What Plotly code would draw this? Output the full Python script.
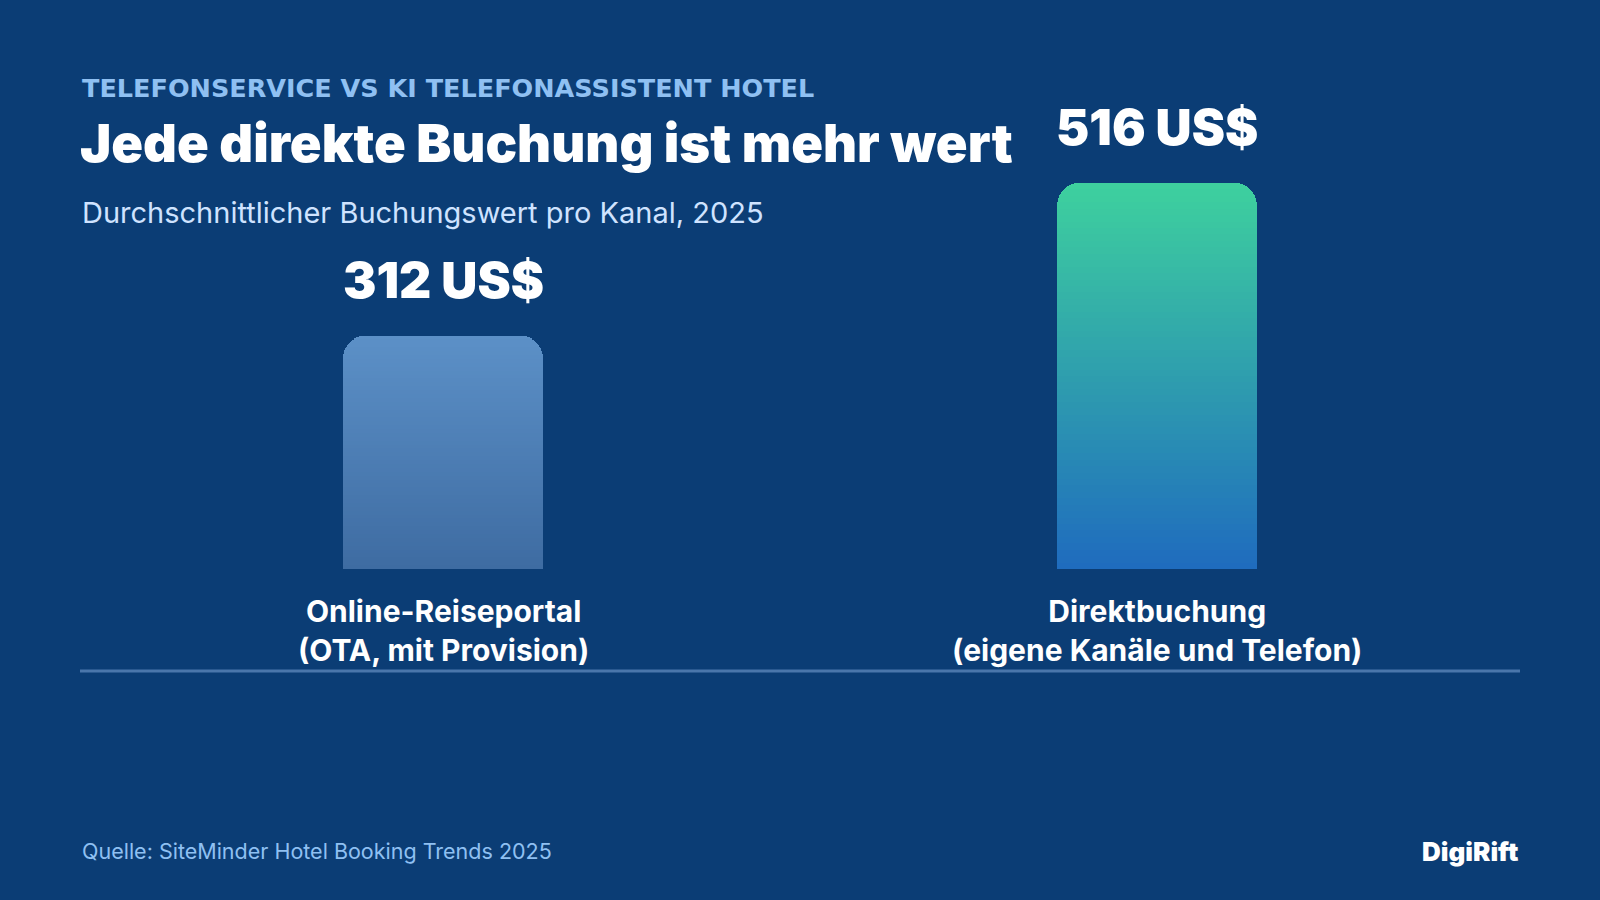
import plotly.graph_objects as go

# ---- data ----
categories = ["Online-Reiseportal<br>(OTA, mit Provision)", "Direktbuchung<br>(eigene Kanäle und Telefon)"]
values = [312, 516]
value_labels = ["312 US$", "516 US$"]

kicker = "TELEFONSERVICE VS KI TELEFONASSISTENT HOTEL"
title = "Jede direkte Buchung ist mehr wert"
subtitle = "Durchschnittlicher Buchungswert pro Kanal, 2025"
source = "Quelle: SiteMinder Hotel Booking Trends 2025"
brand = "DigiRift"

# ---- style ----
BG = "#0b3d75"
FONT = "Inter"
top_colors = [(92, 144, 199), (62, 208, 158)]
bot_colors = [(62, 108, 162), (31, 108, 190)]
N = 60

W, H = 1600, 900
ML, MR, MT, MB = 80, 80, 100, 331
PW, PH = W - ML - MR, H - MT - MB


def xp(px):
    return (px - ML) / PW


def yp(py):
    return (H - MB - py) / PH


def lerp(a, b, t):
    return "rgb(%d,%d,%d)" % tuple(round(a[k] + (b[k] - a[k]) * t) for k in range(3))


fig = go.Figure()
for i in range(N):
    t = i / (N - 1)  # 0 bottom -> 1 top
    cols = [lerp(bot_colors[j], top_colors[j], t) for j in range(len(values))]
    fig.add_trace(go.Bar(
        x=categories, y=[v / N for v in values], width=0.28,
        marker=dict(color=cols, line=dict(width=0)),
        hoverinfo="skip", showlegend=False,
    ))

annotations = []
for c, v, lab in zip(categories, values, value_labels):
    annotations.append(dict(x=c, y=v, xref="x", yref="y", text=lab, showarrow=False,
                            yanchor="middle", yshift=56,
                            font=dict(family=FONT, size=50, color="white", weight=900)))
    annotations.append(dict(x=c, y=0, xref="x", yref="y", text=c, showarrow=False,
                            yanchor="top", yshift=-22,
                            font=dict(family=FONT, size=30, color="white", weight=700)))

annotations += [
    dict(x=xp(80), y=yp(88), xref="paper", yref="paper", text=kicker, showarrow=False,
         xanchor="left", yanchor="middle",
         font=dict(family="DejaVu Sans", size=25.5, color="#8fc0f2", weight=700)),
    dict(x=xp(78), y=yp(143), xref="paper", yref="paper", text=title, showarrow=False,
         xanchor="left", yanchor="middle",
         font=dict(family=FONT, size=52.5, color="white", weight=900)),
    dict(x=xp(80), y=yp(212), xref="paper", yref="paper", text=subtitle, showarrow=False,
         xanchor="left", yanchor="middle",
         font=dict(family=FONT, size=29, color="#cfe3ff")),
    dict(x=xp(80), y=yp(851), xref="paper", yref="paper", text=source, showarrow=False,
         xanchor="left", yanchor="middle",
         font=dict(family=FONT, size=21.5, color="#8fc0f2")),
    dict(x=xp(1520), y=yp(851), xref="paper", yref="paper", text=brand, showarrow=False,
         xanchor="right", yanchor="middle",
         font=dict(family=FONT, size=26, color="white", weight=900)),
]

fig.add_shape(type="line", xref="paper", yref="paper", x0=0, x1=1, y0=yp(671), y1=yp(671),
              line=dict(color="#4a76ab", width=3))

fig.update_layout(
    width=W, height=H,
    margin=dict(l=ML, r=MR, t=MT, b=MB),
    paper_bgcolor=BG, plot_bgcolor=BG,
    barmode="stack", barcornerradius=22,
    xaxis=dict(range=[-0.5084, 1.5084], showticklabels=False, showgrid=False, zeroline=False,
               showline=False, fixedrange=True),
    yaxis=dict(range=[0, PH / (386 / 516)], showticklabels=False, showgrid=False,
               zeroline=False, showline=False, fixedrange=True),
    annotations=annotations,
)

fig.write_html("out.html", config={"displayModeBar": False})
